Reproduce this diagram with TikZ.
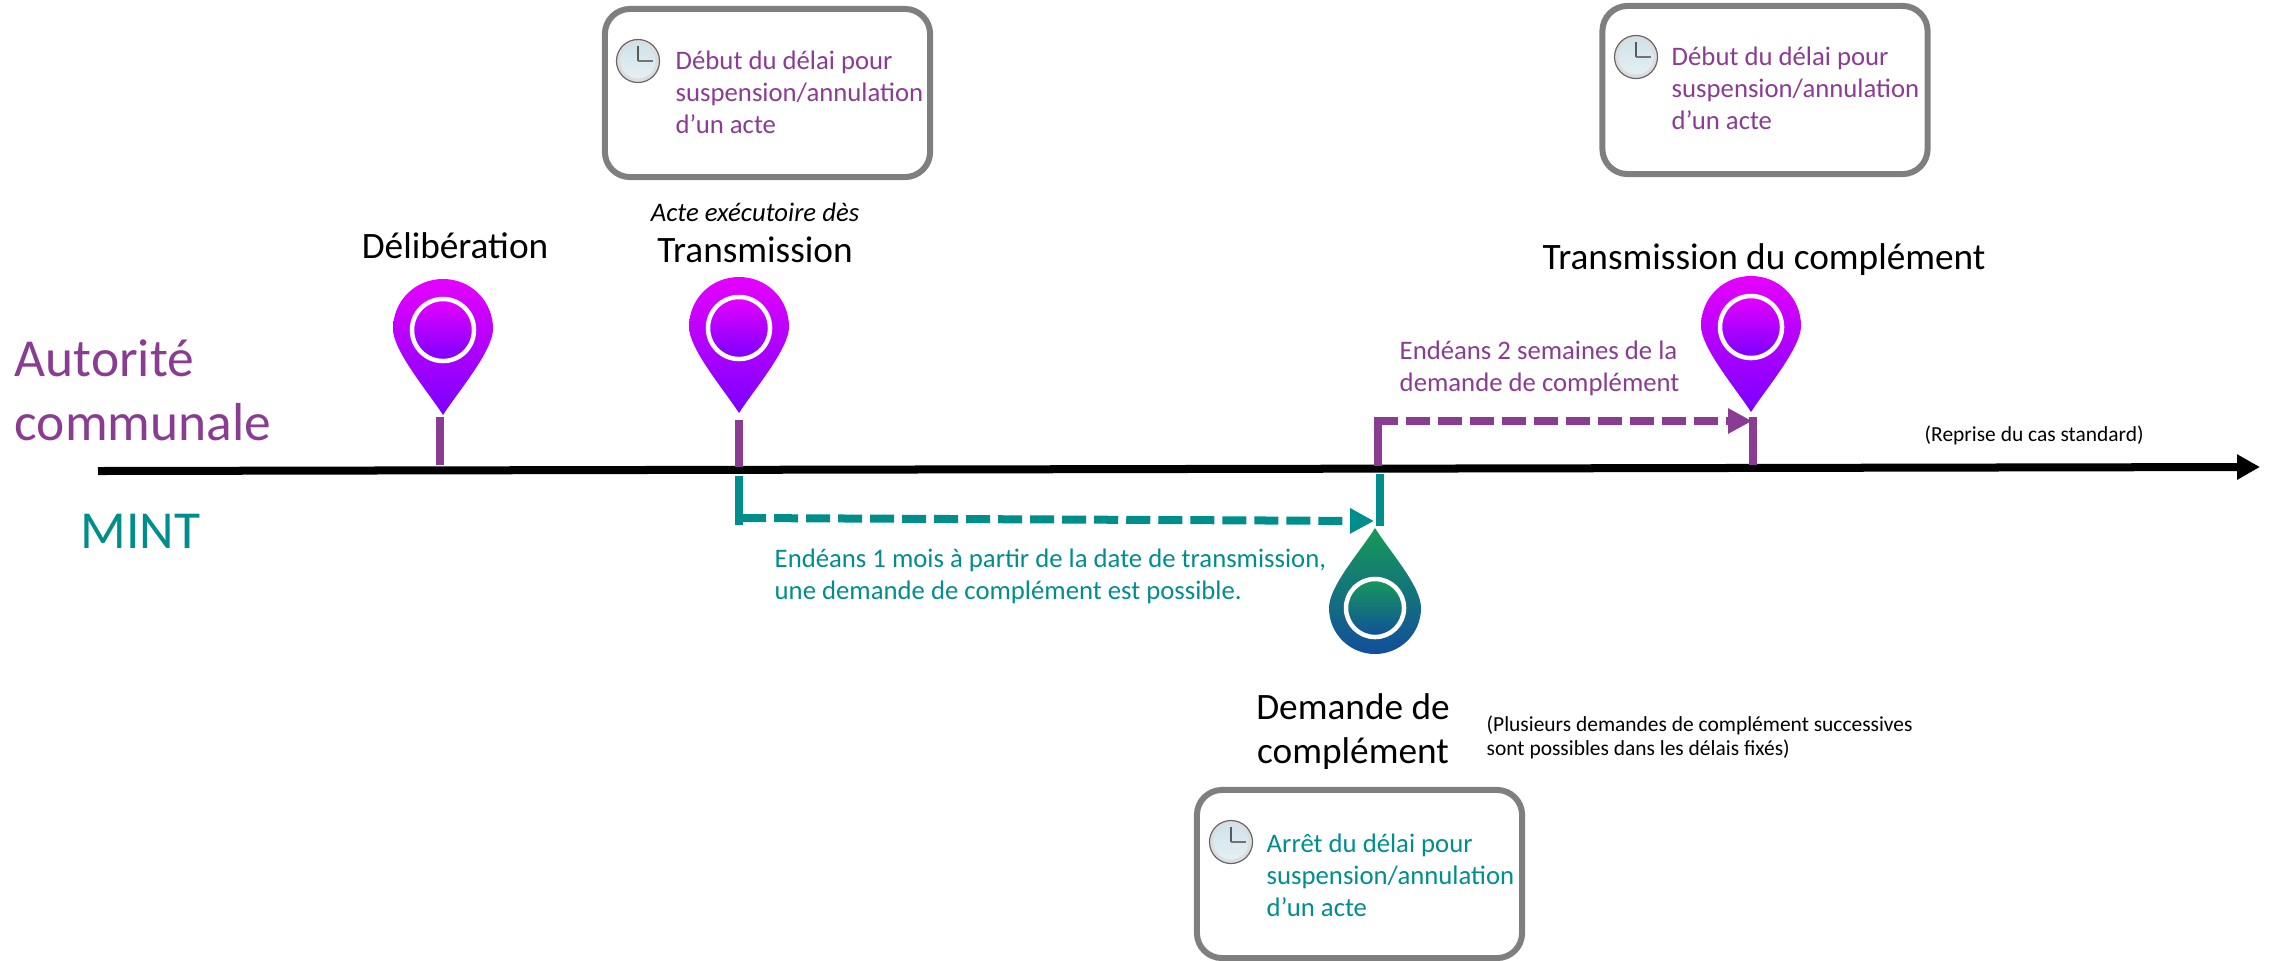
\documentclass[tikz,border=0pt]{standalone}
\usepackage{fontspec}
\usepackage{xcolor}
\usepackage{tikz}
\usetikzlibrary{positioning, arrows.meta}
\setmainfont{Carlito}
\definecolor{autorite}{HTML}{8A3C92}
\definecolor{mint}{HTML}{008E8C}
\definecolor{boxgray}{HTML}{7F7F7F}
\definecolor{pintop}{HTML}{E600FF}
\definecolor{pinbottom}{HTML}{7A00FF}
\definecolor{droptop}{HTML}{169A58}
\definecolor{dropbottom}{HTML}{124E9C}
\definecolor{clockface}{HTML}{CFE3EA}
\definecolor{clockrim}{HTML}{DDDDE0}
\tikzset{
	clockicon/.pic={
		\filldraw[fill=clockrim,draw=black!60,line width=.012cm] (0,0) circle[radius=.215cm];
		\shade[top color=clockface,bottom color=clockface!55!white] (0,0) circle[radius=.175cm];
		\draw[black!65,line width=.014cm] (0,0) -- (0,-15);
		\draw[black!55,line width=.022cm] (0,0) -- (15,0);
	}
}
\begin{document}
\begin{tikzpicture}[x=0.01cm,y=-0.01cm]
	\tikzstyle{axisline}=[draw=black,line width=.08cm,-{Triangle[width=.24cm,length=.23cm]}]
	\tikzstyle{tickup}=[draw=autorite,line width=.08cm]
	\tikzstyle{tickdown}=[draw=mint,line width=.08cm]
	\tikzstyle{delayup}=[draw=autorite,line width=.08cm,dash pattern=on .24cm off .08cm,-{Triangle[width=.24cm,length=.24cm]}]
	\tikzstyle{delaydown}=[draw=mint,line width=.08cm,dash pattern=on .24cm off .08cm,-{Triangle[width=.24cm,length=.24cm]}]
	\tikzstyle{delaybox}=[draw=boxgray,line width=.06cm,rounded corners=.25cm,minimum width=3.25cm,minimum height=1.68cm,inner sep=0pt]
	\tikzstyle{boxtext}=[anchor=north west,align=left,inner sep=0pt,font=\fontsize{7.6}{9.1}\selectfont]
	\tikzstyle{event}=[inner sep=0pt,align=center,font=\fontsize{10.6}{12.5}\selectfont]
	\tikzstyle{aside}=[anchor=north west,inner sep=0pt,align=left,font=\fontsize{6.1}{6.95}\selectfont]
	\tikzstyle{actor}=[anchor=north west,inner sep=0pt,align=left,font=\fontsize{15.2}{18.2}\selectfont]
	\useasboundingbox (0,0) rectangle (2273,960);

	\coordinate (axisstart) at (98,471);
	\coordinate (axisend) at (2260,467);
	\coordinate (delibtop) at (440,417);
	\coordinate (delibfoot) at (440,465);
	\coordinate (transtop) at (739,420);
	\coordinate (transfoot) at (739,467);
	\coordinate (compltop) at (1753,417);
	\coordinate (complfoot) at (1753,465);
	\coordinate (mintfoot) at (739,476);
	\coordinate (mintcorner) at (739,525);
	\coordinate (mintstart) at (742,518);
	\coordinate (minttip) at (1374,521);
	\coordinate (dropneck) at (1380,474);
	\coordinate (dropfoot) at (1380,526);
	\coordinate (replyfoot) at (1378,466);
	\coordinate (replycorner) at (1378,417);
	\coordinate (replystart) at (1374,421);
	\coordinate (replytip) at (1752,421);

	\foreach \x/\y in {443/415,739/413,1751/412}{
		\begin{scope}[shift={(\x,\y)}]
			\shade[top color=pintop,bottom color=pinbottom]
				(0,0) .. controls (-14,-22) and (-50,-64) .. (-50,-86)
				.. controls (-50,-114) and (-28,-136) .. (0,-136)
				.. controls (28,-136) and (50,-114) .. (50,-86)
				.. controls (50,-64) and (14,-22) .. (0,0) -- cycle;
			\shadedraw[top color=pintop,bottom color=pinbottom,draw=white,line width=.045cm] (0,-85) circle[radius=.31cm];
		\end{scope}
	}
	\shade[top color=droptop,bottom color=dropbottom]
		(1375,528) .. controls (1360,552) and (1329,586) .. (1329,608)
		.. controls (1329,634) and (1350,654) .. (1375,654)
		.. controls (1400,654) and (1421,634) .. (1421,608)
		.. controls (1421,586) and (1390,552) .. (1375,528) -- cycle;
	\shadedraw[top color=droptop,bottom color=dropbottom,draw=white,line width=.045cm] (1375,608) circle[radius=.29cm];

	\draw[axisline] (axisstart) -- (axisend);
	\draw[delaydown] (mintstart) -- (minttip);
	\draw[delayup] (replystart) -- (replytip);
	\path[tickup]
		(delibtop) edge (delibfoot)
		(transtop) edge (transfoot)
		(compltop) edge (complfoot)
		(replycorner) edge (replyfoot);
	\path[tickdown]
		(dropneck) edge (dropfoot)
		(mintfoot) edge (mintcorner);

	\node[delaybox] (startboxA) at (767.5,93) {};
	\node[delaybox] (startboxB) at (1765,90) {};
	\node[delaybox] (stopbox) at (1359.5,874) {};
	\pic (clockA) at (638,61) {clockicon};
	\pic (clockB) at (1636,57) {clockicon};
	\pic (clockC) at (1231,842) {clockicon};
	\node[boxtext,text=autorite] (starttextA) at (675,50) {Début du délai pour\\suspension/annulation\\d’un acte};
	\node[boxtext,text=autorite] (starttextB) at (1671,46) {Début du délai pour\\suspension/annulation\\d’un acte};
	\node[boxtext,text=mint] (stoptext) at (1266,833) {Arrêt du délai pour\\suspension/annulation\\d’un acte};

	\node[event] (delib) at (455,246) {Délibération};
	\node[event] (trans) at (755,250) {Transmission};
	\node[event] (compl) at (1764,260) {Transmission du complément};
	\node[event] (demande) at (1353,732) {Demande de\\complément};
	\node[boxtext,anchor=center,font=\fontsize{7.6}{9.1}\selectfont\itshape] (acte) at (755,212) {Acte exécutoire dès};

	\node[actor,text=autorite] (autorite) at (14,339) {Autorité\\communale};
	\node[actor,text=mint] (mintlabel) at (80,513) {MINT};

	\node[boxtext,text=autorite] (replytext) at (1399,340) {Endéans 2 semaines de la\\demande de complément};
	\node[boxtext,text=mint] (minttext) at (774,548) {Endéans 1 mois à partir de la date de transmission,\\une demande de complément est possible.};
	\node[aside] (reprise) at (1924,425) {(Reprise du cas standard)};
	\node[aside] (plusieurs) at (1486,715) {(Plusieurs demandes de complément successives\\sont possibles dans les délais fixés)};
\end{tikzpicture}
\end{document}
